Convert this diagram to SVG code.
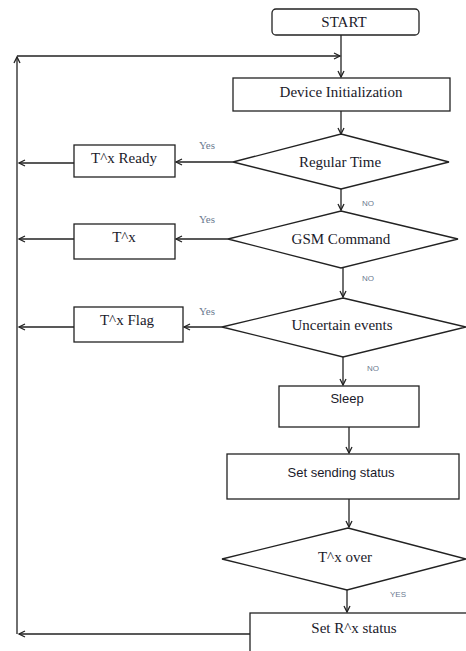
<svg xmlns="http://www.w3.org/2000/svg" width="466" height="651" viewBox="0 0 466 651">
<defs>
<marker id="ah" markerWidth="10" markerHeight="10" refX="7" refY="4" orient="auto" markerUnits="userSpaceOnUse">
<path d="M1,1 L7,4 L1,7" fill="none" stroke="#222" stroke-width="1.3"/>
</marker>
<style>
.box{fill:#fff;stroke:#222;stroke-width:1.3}
.t{font-family:"Liberation Serif",serif;font-size:15px;fill:#1a1a2a;text-anchor:middle}
.s{font-family:"Liberation Sans",sans-serif;font-size:13px;fill:#1a1a2a;text-anchor:middle}
.lbl{font-family:"Liberation Sans",sans-serif;font-size:8px;fill:#6b7a90}
.lbls{font-family:"Liberation Serif",serif;font-size:11px;fill:#6b7a90}
.c{fill:none;stroke:#222;stroke-width:1.3}
.a{marker-end:url(#ah)}
</style>
</defs>
<rect width="466" height="651" fill="#fff"/>
<g id="connectors">
<line class="c a" x1="341" y1="35" x2="341" y2="77"/>
<line class="c a" x1="17" y1="634" x2="17" y2="57"/>
<line class="c a" x1="17" y1="56" x2="340" y2="56"/>
<line class="c a" x1="341" y1="111" x2="341" y2="134"/>
<line class="c a" x1="233" y1="162" x2="176" y2="162"/>
<line class="c a" x1="74" y1="163" x2="19" y2="163"/>
<line class="c a" x1="341" y1="189" x2="341" y2="210"/>
<line class="c a" x1="228" y1="239" x2="176" y2="239"/>
<line class="c a" x1="74" y1="239" x2="19" y2="239"/>
<line class="c a" x1="343" y1="268" x2="343" y2="297"/>
<line class="c a" x1="222" y1="327" x2="184" y2="327"/>
<line class="c a" x1="74" y1="327" x2="19" y2="327"/>
<line class="c a" x1="343" y1="357" x2="343" y2="385"/>
<line class="c a" x1="349" y1="427" x2="349" y2="453"/>
<line class="c a" x1="349" y1="499" x2="349" y2="527"/>
<line class="c a" x1="347" y1="590" x2="347" y2="612"/>
<line class="c a" x1="250" y1="634" x2="19" y2="634"/>
</g>
<g id="labels">
<text class="lbls" x="199" y="149">Yes</text>
<text class="lbl" x="362" y="206">NO</text>
<text class="lbls" x="199" y="223">Yes</text>
<text class="lbl" x="362" y="281">NO</text>
<text class="lbls" x="199" y="315">Yes</text>
<text class="lbl" x="367" y="371">NO</text>
<text class="lbl" x="390" y="597">YES</text>
</g>
<g id="start">
<rect class="box" x="272" y="9" width="147" height="26" rx="4"/>
<text class="t" x="344" y="27">START</text>
</g>
<g id="init">
<rect class="box" x="233" y="78" width="217" height="33"/>
<text class="t" x="341" y="97">Device Initialization</text>
</g>
<g id="regular">
<polygon class="box" points="341,134 449,162 341,189 233,162"/>
<text class="t" x="340" y="167">Regular Time</text>
</g>
<g id="txready">
<rect class="box" x="74" y="145" width="101" height="32"/>
<text class="t" x="124" y="163">T^x Ready</text>
</g>
<g id="gsm">
<polygon class="box" points="341,211 458,239 341,268 228,239"/>
<text class="t" x="341" y="244">GSM Command</text>
</g>
<g id="tx">
<rect class="box" x="74" y="224" width="101" height="35"/>
<text class="t" x="124" y="242">T^x</text>
</g>
<g id="uncertain">
<polygon class="box" points="343,298 466,327 343,357 222,327"/>
<text class="t" x="342" y="330">Uncertain events</text>
</g>
<g id="txflag">
<rect class="box" x="74" y="307" width="109" height="35"/>
<text class="t" x="127" y="325">T^x Flag</text>
</g>
<g id="sleep">
<rect class="box" x="279" y="386" width="140" height="41"/>
<text class="s" x="347" y="403">Sleep</text>
</g>
<g id="sending">
<rect class="box" x="227" y="454" width="232" height="45"/>
<text class="s" x="341" y="477">Set sending status</text>
</g>
<g id="txover">
<polygon class="box" points="348,528 466,559 347,590 222,559"/>
<text class="t" x="345" y="562">T^x over</text>
</g>
<g id="rxstatus">
<rect class="box" x="250" y="613" width="230" height="50"/>
<text class="t" x="354" y="633">Set R^x status</text>
</g>
</svg>
